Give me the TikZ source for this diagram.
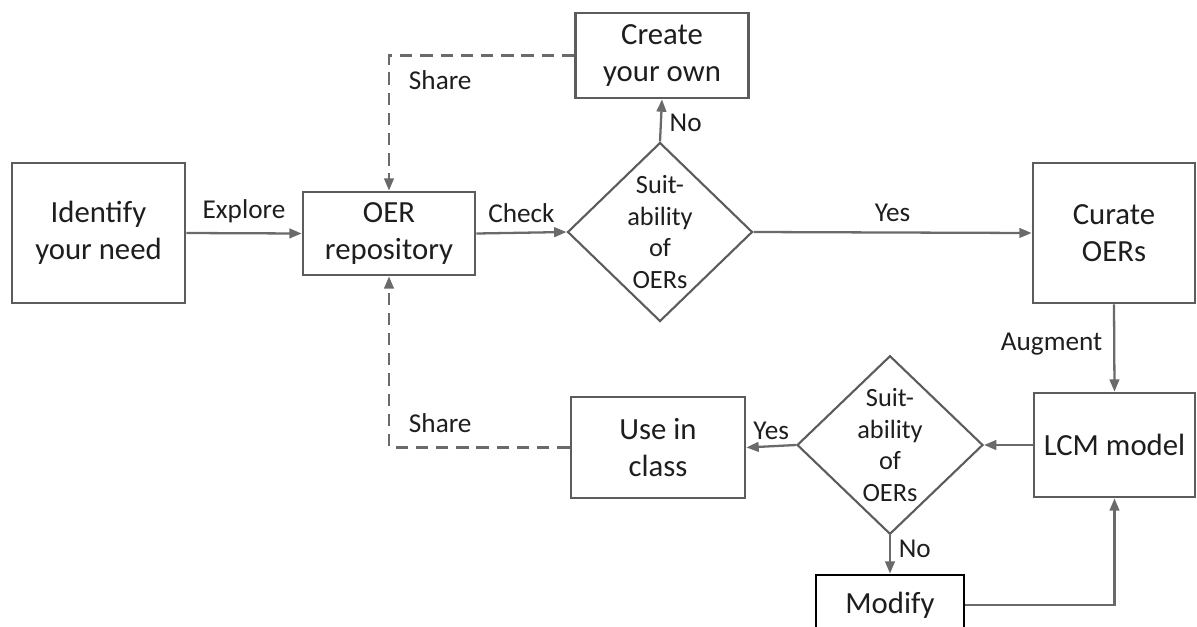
\documentclass[tikz,border=0pt]{standalone}
\usepackage{fontspec}
\setmainfont{Carlito}
\usetikzlibrary{arrows.meta}
\usetikzlibrary{shapes.geometric}

\definecolor{linegray}{HTML}{6A6A6A}
\definecolor{boxgray}{HTML}{5C5C5C}
\definecolor{textgray}{HTML}{1E1E1E}

\tikzset{
  stepbox/.style={draw=boxgray, line width=1.6pt, fill=white, align=center, text=textgray, inner sep=0pt, font=\fontsize{17.5}{21}\selectfont},
  checkbox/.style={diamond, draw=boxgray, line width=1.2pt, fill=white, align=center, text=textgray, inner sep=0pt, aspect=1, font=\fontsize{15}{18}\selectfont},
  flow/.style={->, draw=linegray, line width=1.3pt},
  shareflow/.style={flow, dash pattern=on 7pt off 4.5pt},
  tag/.style={text=textgray, font=\fontsize{15.5}{18.6}\selectfont},
  >={Triangle[length=7pt,width=5.5pt]}
}

\begin{document}
\begin{tikzpicture}[x=0.02cm,y=-0.02cm]
  \useasboundingbox (0,0) rectangle (1197,626);
  \clip (0,0) rectangle (1197,626);

  \node[stepbox, minimum width=3.46cm, minimum height=2.8cm] (need) at (98.5,233) {Identify\\your need};
  \node[stepbox, minimum width=3.44cm, minimum height=1.66cm] (repo) at (389,233.5) {OER\\repository};
  \node[stepbox, minimum width=3.46cm, minimum height=1.7cm] (create) at (662,55.5) {Create\\your own};
  \node[checkbox, minimum width=3.7cm, minimum height=3.58cm] (suit1) at (660,232) {Suit-\\ability\\of\\OERs};
  \node[stepbox, minimum width=3.24cm, minimum height=2.8cm] (curate) at (1114,233) {Curate\\OERs};
  \node[stepbox, minimum width=3.22cm, minimum height=2.08cm] (lcm) at (1114.5,445) {LCM model};
  \node[checkbox, minimum width=3.72cm, minimum height=3.56cm] (suit2) at (890,445) {Suit-\\ability\\of\\OERs};
  \node[stepbox, minimum width=3.48cm, minimum height=2.02cm] (use) at (658,447.5) {Use in\\class};
  \node[stepbox, draw=black, minimum width=2.96cm, minimum height=1.2cm] (modify) at (890,605) {Modify};

\draw[flow] (need.east) -- (repo.west) node[tag, anchor=south, pos=0.5, yshift=2pt] {Explore}; % explore
\draw[flow] (repo.east) -- (suit1.west) node[tag, anchor=south, pos=0.5, yshift=2pt] {Check}; % check
\draw[flow] (suit1.east) -- (curate.west) node[tag, anchor=south, pos=0.5, yshift=2pt] {Yes}; % yes
\draw[flow] (suit1.north) -- (create.south) node[tag, anchor=west, pos=0.45, xshift=1pt] {No}; % no

\draw[shareflow] (create.west) -| (repo.north) node[tag, anchor=west, pos=0.5, xshift=0.26cm, yshift=-0.49cm] {Share}; % share top
\draw[shareflow] (use.west) -| (repo.south) node[tag, anchor=west, pos=0.5, xshift=0.26cm, yshift=0.49cm] {Share}; % share bottom

\draw[flow] (curate.south) -- (lcm.north) node[tag, anchor=east, pos=0.45, xshift=-0.1cm] {Augment}; % augment
\draw[flow] (lcm.west) -- (suit2.east);
\draw[flow] (suit2.west) -- (use.east) node[tag, anchor=south, pos=0.5, yshift=0pt] {Yes};
\draw[flow] (suit2.south) -- (modify.north) node[tag, anchor=west, pos=0.35, xshift=1pt] {No};
\draw[flow] (modify.east) -| (lcm.south); % back to model

\end{tikzpicture}
\end{document}
